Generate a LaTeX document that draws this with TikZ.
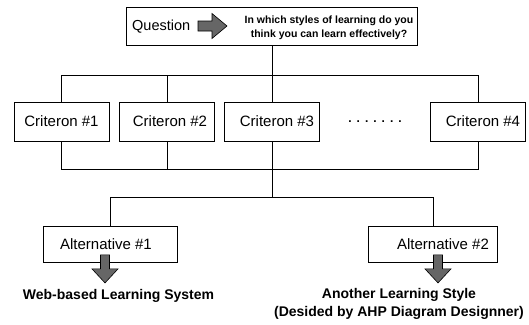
\documentclass[tikz,border=0pt]{standalone}
\usepackage{fontspec}
\setmainfont{Liberation Sans}
\usetikzlibrary{calc}
\newcommand\ellipsisrow{.\kern5pt.\kern5pt.\kern5pt.\kern5pt.\kern5pt.\kern5pt.}
\begin{document}
\begin{tikzpicture}[x=1pt,y=-1pt,
  box/.style={draw,line width=0.8pt,inner sep=0pt,font=\fontsize{15}{18}\selectfont},
  critbox/.style={box,minimum width=95pt,minimum height=39pt},
  altbox/.style={box,minimum height=36pt},
  link/.style={line width=1pt},
  blockarrow/.style={draw,line width=0.6pt,fill=black!60,line join=miter},
  outcome/.style={font=\fontsize{14}{18}\selectfont\bfseries,inner sep=0pt,align=center},
  downarrow/.pic={\draw[blockarrow] (-4.5,0) -- (4.5,0) -- (4.5,14) -- (13,14)
      -- (0,28) -- (-13,14) -- (-4.5,14) -- cycle;}]
\useasboundingbox (0,0) rectangle (529,324);

% goal box with the question
\node[box,minimum width=291pt,minimum height=38pt] (qbox) at (272,26) {};
\node[anchor=west,inner sep=0pt,font=\fontsize{14.5}{17}\selectfont] (qlabel) at (132,27) {Question};
\node[inner sep=0pt,align=center,font=\fontsize{10.5}{14}\selectfont\bfseries] (qtext) at (329,27.5)
  {In which styles of learning do you\\think you can learn effectively?};
\coordinate (qarrow) at (198,21);
\draw[blockarrow] (qarrow) -- ++(14,0) -- ++(0,-7.5) -- ++(15,12.5) -- ++(-15,12.5)
  -- ++(0,-7.5) -- ++(-14,0) -- cycle;

% criteria
\node[critbox] (c1) at (61.5,121.5) {Criteron \#1};
\node[critbox] (c2) at (167,121.5) {\hspace*{6pt}Criteron \#2};
\node[critbox] (c3) at (272,121.5) {\hspace*{10pt}Criteron \#3};
\node[critbox] (c4) at (478,121.5) {\hspace*{10pt}Criteron \#4};
\node[inner sep=0pt,font=\fontsize{12}{14}\selectfont\bfseries] (dots) at (375,122) {\ellipsisrow};

% alternatives
\node[altbox,minimum width=134pt] (a1) at (110,244.5) {Alternative \#1\hspace*{8pt}};
\node[altbox,minimum width=129pt] (a2) at (433,244.5) {\hspace*{20pt}Alternative \#2};

% bus lines
\coordinate (topbus) at (0,75);
\coordinate (critbus) at (0,169);
\coordinate (altbus) at (0,197);
\draw[link] (qbox.south) -- (c3.north);
\draw[link] (c1.north) |- (c4.north |- topbus) -- (c4.north);
\draw[link] (c2.north) -- (c2.north |- topbus);
\draw[link] (c1.south) |- (c4.south |- critbus) -- (c4.south);
\draw[link] (c2.south) -- (c2.south |- critbus);
\draw[link] (c3.south) -- (c3.south |- altbus);
\draw[link] (a1.north) |- (a2.north |- altbus) -- (a2.north);

% outcomes
\pic at ($(a1.south)+(-5,-8)$) {downarrow};
\pic at ($(a2.south)+(5,-8)$) {downarrow};
\node[outcome] (o1) at (118.5,296) {Web-based Learning System};
\node[outcome] (o2) at (399,304) {Another Learning Style\\(Desided by AHP Diagram Designner)};
\end{tikzpicture}
\end{document}
